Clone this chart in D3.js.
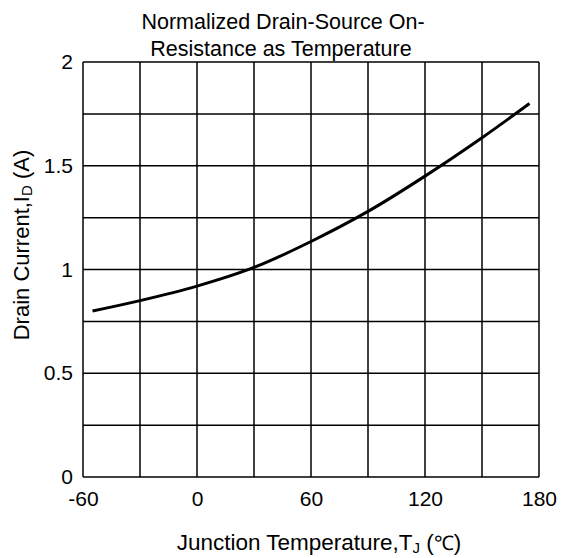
<!DOCTYPE html>
<html><head><meta charset="utf-8">
<script src="https://cdn.jsdelivr.net/npm/d3@7"></script>
<style>body{margin:0;background:#fff}svg{display:block}text{font-family:"Liberation Sans",Arial,sans-serif;fill:#000}</style>
</head><body>
<svg id="c" width="563" height="558"></svg>
<script>
const temps = [-55, -30, 0, 30, 60, 90, 120, 150, 175];
const values = [0.80, 0.85, 0.92, 1.01, 1.135, 1.28, 1.45, 1.635, 1.80];
const xTicks = [-60, 0, 60, 120, 180];
const yTicks = [0, 0.5, 1, 1.5, 2];
const xGrid = [-60, -30, 0, 30, 60, 90, 120, 150, 180];
const yGrid = [0, 0.25, 0.5, 0.75, 1, 1.25, 1.5, 1.75, 2];

const FONT = '"Liberation Sans",Arial,sans-serif';
const svg = d3.select("#c");
const L = 83, R = 539, T = 62, B = 477;
const x = d3.scaleLinear().domain([-60, 180]).range([L, R]);
const y = d3.scaleLinear().domain([0, 2]).range([B, T]);

const g = svg.append("g");
g.selectAll("line.vg").data(xGrid).join("line")
  .attr("x1", d => x(d)).attr("x2", d => x(d)).attr("y1", T).attr("y2", B)
  .attr("stroke", "#000").attr("stroke-width", 1.5);
g.selectAll("line.hg").data(yGrid).join("line")
  .attr("y1", d => y(d)).attr("y2", d => y(d)).attr("x1", L).attr("x2", R)
  .attr("stroke", "#000").attr("stroke-width", 1.5);

const xAxis = svg.append("g").attr("transform", `translate(0,${B})`)
  .call(d3.axisBottom(x).tickValues(xTicks).tickSize(0).tickPadding(14).tickFormat(d => String(d)));
xAxis.select(".domain").remove();
xAxis.attr("font-size", null).attr("font-family", null);
xAxis.selectAll("text").attr("font-size", 21).attr("dy", "0.71em").style("font-family", FONT);

const yAxis = svg.append("g").attr("transform", `translate(${L},0)`)
  .call(d3.axisLeft(y).tickValues(yTicks).tickSize(0).tickPadding(10).tickFormat(d => String(d)));
yAxis.select(".domain").remove();
yAxis.attr("font-size", null).attr("font-family", null);
yAxis.selectAll("text").attr("font-size", 21).style("font-family", FONT);

const line = d3.line().x((d, i) => x(temps[i])).y(d => y(d)).curve(d3.curveCatmullRom.alpha(0.5));
svg.append("path").datum(values).attr("d", line)
  .attr("fill", "none").attr("stroke", "#000").attr("stroke-width", 3).attr("stroke-linecap", "butt");

// titles
svg.append("text").attr("x", 283).attr("y", 29).attr("text-anchor", "middle").attr("font-size", 21.5)
  .text("Normalized Drain-Source On-");
svg.append("text").attr("x", 281).attr("y", 56).attr("text-anchor", "middle").attr("font-size", 21.5)
  .text("Resistance as Temperature");

const xl = svg.append("text").attr("x", 319).attr("y", 550).attr("text-anchor", "middle").attr("font-size", 22.5);
xl.append("tspan").text("Junction Temperature,T");
xl.append("tspan").attr("font-size", 15).attr("dy", 3).text("J");
xl.append("tspan").attr("dy", -3).text(" (");
xl.append("tspan").style("font-family", FONT).attr("font-size", 20).text("℃");
xl.append("tspan").text(")");

const yl = svg.append("text").attr("transform", "translate(29,245) rotate(-90)").attr("text-anchor", "middle").attr("font-size", 22);
yl.append("tspan").text("Drain Current,I");
yl.append("tspan").attr("font-size", 15).attr("dy", 3).text("D");
yl.append("tspan").attr("dy", -3).text(" (A)");
</script>
</body></html>
